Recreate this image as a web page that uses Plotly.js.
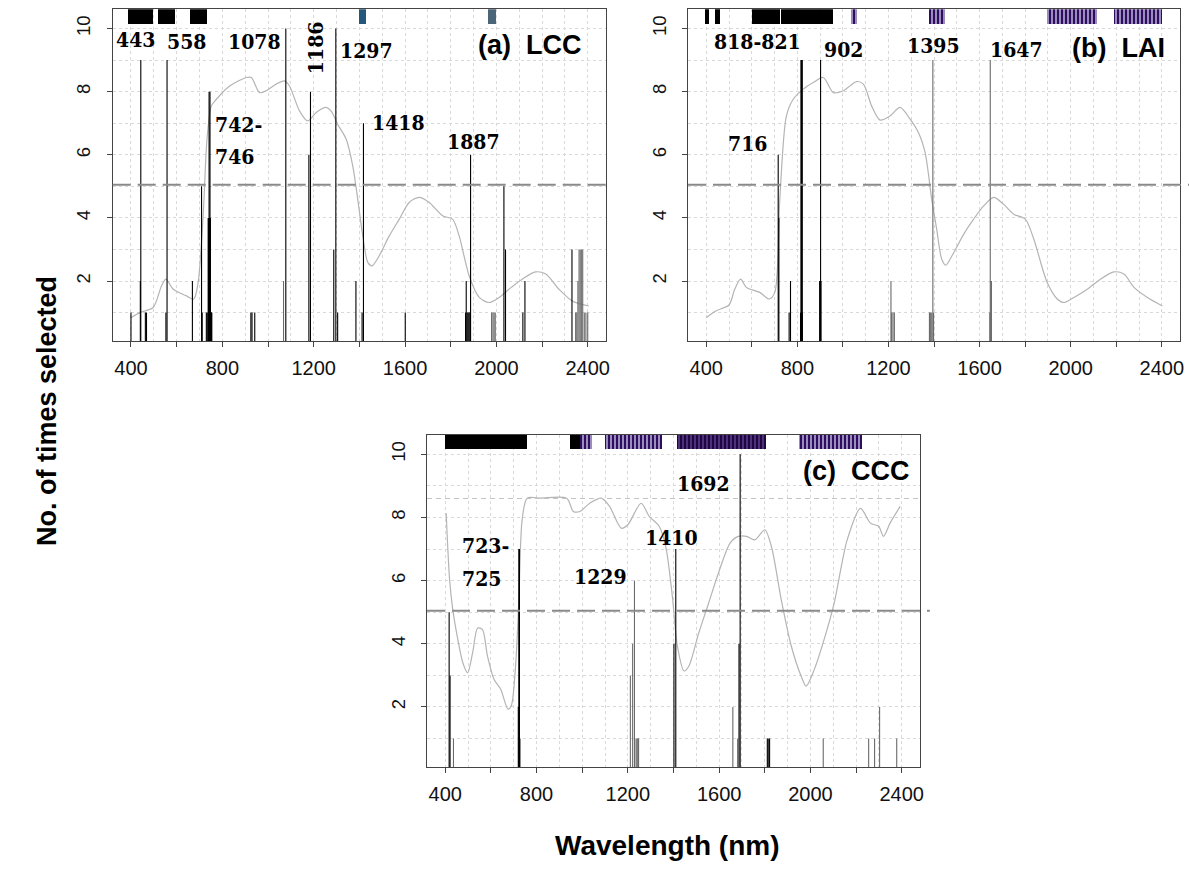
<!DOCTYPE html>
<html><head><meta charset="utf-8">
<script src="https://cdn.plot.ly/plotly-3.0.1.min.js"></script>
<style>html,body{margin:0;padding:0;background:#fff}#chart{width:1189px;height:879px}</style>
</head><body><div id="chart"></div>
<script>
// ================= DATA =================
// x tick values / labels
const xTickVals = [400, 600, 800, 1000, 1200, 1400, 1600, 1800, 2000, 2200, 2400];
const xTickText = ['400', '', '800', '', '1200', '', '1600', '', '2000', '', '2400'];
const yTickVals = [2, 4, 6, 8, 10];
const threshold = 5.05;

// ---- (a) LCC ----
const lccWl    = [400, 441, 443, 463, 468, 553, 558, 669, 709, 712, 730, 734, 738, 740, 742, 744, 746, 748, 750, 752, 754, 925, 930, 942, 1078, 1179, 1186, 1288, 1297, 1305, 1385, 1412, 1418, 1601, 1865, 1868, 1872, 1876, 1880, 1884, 1887, 2033, 2040, 2116, 2125, 2331];
const lccCount = [1,   2,   9,   1,   1,   1,   9,   2,   5,   1,   1,   1,   4,   4,   8,   4,   8,   4,   1,   1,   1,   1,   1,   1,   10,   6,    8,    3,    10,   1,    2,    1,    7,    1,    1,    2,    1,    1,    1,    1,    6,    5,    3,    1,    2,    3];
const lccWlGray    = [1068, 1979, 1985, 1990, 1995, 2347, 2352, 2357, 2362, 2367, 2372, 2378, 2385, 2392, 2400];
const lccCountGray = [2,    1,    1,    1,    1,    1,    1,    2,    3,    3,    3,    3,    1,    1,    1];
const lccSpecWl  = [400,439,497,534,553,585,643,675,694,716,733,752,774,832,905,927,963,992,1036,1072,1094,1138,1174,1211,1254,1276,1305,1342,1371,1393,1415,1437,1455,1487,1531,1575,1618,1662,1706,1764,1808,1837,1881,1925,1968,2012,2055,2113,2172,2216,2274,2332,2404];
const lccSpecVal = [0.84,1.0,1.16,1.85,2.06,1.74,1.53,1.43,1.95,4.07,6.5,7.55,7.76,8.18,8.45,8.45,7.97,8.03,8.24,8.34,8.18,7.39,7.07,7.34,7.5,7.39,6.97,6.5,5.65,4.59,3.43,2.59,2.48,2.8,3.43,3.96,4.49,4.65,4.49,4.07,3.96,3.43,2.16,1.48,1.32,1.48,1.74,2.06,2.29,2.22,1.74,1.37,1.21];
const lccStripStart = [387, 518, 658, 1400, 1963];
const lccStripEnd   = [496, 592, 732, 1430, 1998];
const lccStripKind  = ['solid', 'solid', 'solid', 'blue', 'slate'];
const lccLabels  = ['443', '558', '1078', '1297', '1418', '1887', '742-', '746'];
const lccLabelWl = [422, 645, 941, 1431, 1570, 1899, 759, 759];
const lccLabelY  = [9.66, 9.6, 9.58, 9.31, 7.02, 6.41, 6.97, 5.96];
const lccRotLabel = '1186', lccRotWl = 1206, lccRotY = 9.38;

// ---- (b) LAI ----
const laiWl    = [716, 719, 764, 770, 814, 816, 818, 819, 820, 821, 822, 898, 900, 902, 904];
const laiCount = [6,   4,   1,   2,   1,   9,   9,   9,   9,   9,   1,   2,   2,   9,   2];
const laiWlGray    = [1211, 1214, 1220, 1226, 1380, 1384, 1390, 1395, 1398, 1645, 1647, 1650, 1652];
const laiCountGray = [2,    1,    1,    1,    1,    1,    1,    9,    1,    1,    9,    2,    2];
const laiSpecWl  = [400,444,500,525,551,576,635,676,701,723,752,782,826,870,914,958,1002,1060,1090,1126,1163,1207,1251,1295,1332,1361,1390,1412,1434,1452,1479,1530,1574,1618,1662,1706,1750,1801,1838,1897,1941,1970,2014,2073,2131,2190,2234,2278,2337,2403];
const laiSpecVal = [0.84,1.06,1.24,1.74,2.06,1.8,1.64,1.43,1.64,4.59,7.23,7.76,8.08,8.29,8.45,7.97,8.03,8.32,8.24,7.55,7.1,7.23,7.5,7.13,6.7,6.07,4.59,3.64,2.69,2.5,2.8,3.48,3.96,4.38,4.65,4.43,4.12,3.96,3.33,1.95,1.43,1.32,1.48,1.74,2.06,2.29,2.22,1.8,1.48,1.21];
const laiStripStart = [393, 437, 602, 730, 1034, 1380, 1894, 2190];
const laiStripEnd   = [412, 459, 723, 958, 1060, 1449, 2117, 2403];
const laiStripKind  = ['solid', 'solid', 'solid', 'solid', 'stripe', 'stripe', 'stripe', 'stripe'];
const laiLabels  = ['818-821', '902', '1395', '1647', '716'];
const laiLabelWl = [625, 1001, 1396, 1760, 581];
const laiLabelY  = [9.6, 9.34, 9.47, 9.34, 6.37];

// ---- (c) CCC ----
const cccWl    = [417, 421, 720, 723, 724, 725, 727, 1402, 1410, 1687, 1692, 1811, 1815, 1821];
const cccCount = [5,   3,   2,   7,   7,   7,   1,   4,    7,    4,    10,   1,    1,    1];
const cccWlGray    = [436, 1211, 1221, 1229, 1236, 1240, 1244, 1247, 1660, 1681, 2056, 2255, 2281, 2303, 2378];
const cccCountGray = [1,   3,    4,    6,    1,    1,    1,    1,    2,    1,    1,    1,    1,    2,    1];
const cccSpecWl  = [404,419,433,455,477,498,520,542,563,585,614,643,675,689,708,722,737,759,816,932,961,990,1033,1084,1120,1171,1200,1258,1294,1337,1366,1395,1417,1446,1467,1511,1554,1597,1648,1684,1720,1756,1800,1829,1872,1916,1959,1981,2017,2060,2104,2161,2219,2263,2299,2320,2349,2393];
const cccSpecVal = [8.14,6.03,5.08,4.14,3.4,3.08,3.72,4.5,4.45,3.61,2.87,2.56,1.93,2.03,3.29,5.29,7.93,8.61,8.61,8.61,8.19,8.19,8.45,8.61,8.35,7.66,7.77,8.45,8.03,7.72,7.08,5.5,3.93,3.14,3.29,4.35,5.29,6.24,7.19,7.4,7.4,7.29,7.61,7.08,5.4,3.93,2.98,2.66,3.19,4.14,5.29,7.29,8.29,7.82,7.72,7.4,7.82,8.35];
const cccCeiling = 8.6;
const cccStripStart = [400, 947, 990, 1098, 1417, 1949];
const cccStripEnd   = [759, 990, 1041, 1349, 1804, 2226];
const cccStripKind  = ['solid', 'solid', 'stripe', 'stripe', 'dark', 'stripe'];
const cccLabels  = ['1692', '723-', '725', '1229', '1410'];
const cccLabelWl = [1531, 466, 466, 1079, 1390];
const cccLabelY  = [9.06, 7.1, 6.08, 6.13, 7.36];

const panelTitles = ['(a)  LCC', '(b)  LAI', '(c)  CCC'];
const panelTitleWl = [2148, 2211, 2201];
const panelTitleY  = [9.47, 9.38, 9.47];

// ================= BUILD =================
const STRIP_BASE = 10.16, STRIP_TOP = 10.7;
const Y_RANGE = [0.1, 10.61];
const X_RANGE = [320, 2480];

function needles(wl, cnt, color, ax) {
  const x = [], y = [];
  wl.forEach((w, i) => { x.push(w, w, null); y.push(0, cnt[i], null); });
  return {type: 'scatter', mode: 'lines', x, y, xaxis: 'x' + ax, yaxis: 'y' + ax,
    line: {color, width: 1.1}, hoverinfo: 'skip', showlegend: false};
}
function spectrum(wl, val, ax) {
  return {type: 'scatter', mode: 'lines', x: wl, y: val, xaxis: 'x' + ax, yaxis: 'y' + ax,
    line: {color: '#b4b4b4', width: 1.2, shape: 'spline', smoothing: 0.8}, hoverinfo: 'skip', showlegend: false};
}
const kindStyle = {
  solid:  {color: '#000000'},
  blue:   {color: '#24587a'},
  slate:  {color: '#4a6577'},
  stripe: {color: '#7f6fa8', pattern: {shape: '|', fgcolor: '#2e0c5e', bgcolor: '#a69bc8', size: 4, solidity: 0.55}},
  dark:   {color: '#2a0a55', pattern: {shape: '|', fgcolor: '#1e0640', bgcolor: '#5a3a8a', size: 4, solidity: 0.6}}
};
function strips(st, en, kind, ax) {
  const out = [];
  Object.keys(kindStyle).forEach(k => {
    const idx = kind.map((kk, i) => kk === k ? i : -1).filter(i => i >= 0);
    if (!idx.length) return;
    out.push({type: 'bar', x: idx.map(i => (st[i] + en[i]) / 2), width: idx.map(i => en[i] - st[i]),
      y: idx.map(() => STRIP_TOP - STRIP_BASE), base: STRIP_BASE, xaxis: 'x' + ax, yaxis: 'y' + ax,
      marker: Object.assign({line: {width: 0}}, kindStyle[k]), hoverinfo: 'skip', showlegend: false});
  });
  return out;
}

const traces = [
  ...strips(lccStripStart, lccStripEnd, lccStripKind, ''),
  spectrum(lccSpecWl, lccSpecVal, ''),
  needles(lccWlGray, lccCountGray, '#6a6a6a', ''),
  needles(lccWl, lccCount, '#000000', ''),
  ...strips(laiStripStart, laiStripEnd, laiStripKind, '2'),
  spectrum(laiSpecWl, laiSpecVal, '2'),
  needles(laiWlGray, laiCountGray, '#6a6a6a', '2'),
  needles(laiWl, laiCount, '#000000', '2'),
  ...strips(cccStripStart, cccStripEnd, cccStripKind, '3'),
  spectrum(cccSpecWl, cccSpecVal, '3'),
  needles(cccWlGray, cccCountGray, '#6a6a6a', '3'),
  needles(cccWl, cccCount, '#000000', '3')
];

const W = 1189, H = 879;
function xax(l, r, anchor) {
  return {domain: [l / W, r / W], anchor, range: X_RANGE, tickmode: 'array', tickvals: xTickVals, ticktext: xTickText,
    ticks: 'outside', ticklen: 5, tickcolor: '#444', showline: true, mirror: true, linecolor: '#444', linewidth: 1,
    showgrid: true, gridcolor: '#d9d9d9', griddash: 'dot', gridwidth: 1, zeroline: false,
    minor: {tickmode: 'linear', tick0: 0, dtick: 100, showgrid: true, gridcolor: '#d9d9d9', griddash: 'dot', ticks: ''},
    ticklabelstandoff: 4,
    tickfont: {family: 'Liberation Sans, Arial, sans-serif', size: 20, color: '#111'}, fixedrange: true};
}
function yax(top, bot, anchor) {
  return {domain: [1 - bot / H, 1 - top / H], anchor, range: Y_RANGE, tickmode: 'array', tickvals: yTickVals,
    tickangle: -90, ticks: 'outside', ticklen: 5, tickcolor: '#444', showline: true, mirror: true, linecolor: '#444', linewidth: 1,
    showgrid: true, gridcolor: '#d9d9d9', griddash: 'dot', gridwidth: 1, zeroline: false,
    minor: {tickmode: 'linear', tick0: 0, dtick: 1, showgrid: true, gridcolor: '#d9d9d9', griddash: 'dot', ticks: ''},
    ticklabelstandoff: 9,
    tickfont: {family: 'Liberation Sans, Arial, sans-serif', size: 18.5, color: '#111'}, fixedrange: true};
}

const serif = {family: 'DejaVu Serif Condensed, DejaVu Serif, Liberation Serif, serif', size: 21, color: '#000', weight: 'bold'};
const sansB = {family: 'Liberation Sans, Arial, sans-serif', size: 27, color: '#000', weight: 'bold'};
function labels(txt, wl, yv, ax) {
  return txt.map((t, i) => ({text: '<b>' + t + '</b>', x: wl[i], y: yv[i], xref: 'x' + ax, yref: 'y' + ax,
    showarrow: false, font: serif, xanchor: (t.endsWith('-') || t === '746' || t === '725') ? 'left' : 'center', yanchor: 'middle'}));
}
const annotations = [
  ...labels(lccLabels, lccLabelWl, lccLabelY, ''),
  {text: '<b>' + lccRotLabel + '</b>', x: lccRotWl, y: lccRotY, xref: 'x', yref: 'y', showarrow: false, font: serif, textangle: -90},
  ...labels(laiLabels, laiLabelWl, laiLabelY, '2'),
  ...labels(cccLabels, cccLabelWl, cccLabelY, '3'),
  ...panelTitles.map((t, i) => ({text: '<b>' + t.replace(/ /g, '&nbsp;') + '</b>', x: panelTitleWl[i], y: panelTitleY[i],
    xref: 'x' + (i ? i + 1 : ''), yref: 'y' + (i ? i + 1 : ''), showarrow: false,
    font: {family: 'Liberation Sans, Arial, sans-serif', size: 27, color: '#000', weight: 'bold'}})),
  {text: '<b>No. of times selected</b>', x: 30 / W, y: 1 - 411 / H, xref: 'paper', yref: 'paper', showarrow: false,
    textangle: -90, font: sansB},
  {text: '<b>Wavelength (nm)</b>', x: 667 / W, y: 1 - 863 / H, xref: 'paper', yref: 'paper', showarrow: false,
    font: {family: 'Liberation Sans, Arial, sans-serif', size: 28, color: '#000', weight: 'bold'}}
];

const shapes = [
  {type: 'line', xref: 'x domain', yref: 'y', x0: 0, x1: 1, y0: threshold, y1: threshold, line: {color: '#8a8a8a', width: 2, dash: '18px,7px'}},
  {type: 'line', xref: 'x2 domain', yref: 'y2', x0: 0, x1: 1.02, y0: threshold, y1: threshold, line: {color: '#8a8a8a', width: 2, dash: '18px,7px'}},
  {type: 'line', xref: 'x3 domain', yref: 'y3', x0: 0, x1: 1.02, y0: threshold, y1: threshold, line: {color: '#8a8a8a', width: 2, dash: '18px,7px'}},
  {type: 'line', xref: 'x3 domain', yref: 'y3', x0: 0, x1: 1, y0: cccCeiling, y1: cccCeiling, line: {color: '#c4c4c4', width: 1, dash: '5px,4px'}}
];

const layout = {
  width: W, height: H, margin: {l: 0, r: 0, t: 0, b: 0}, paper_bgcolor: '#fff', plot_bgcolor: '#fff',
  showlegend: false, barmode: 'overlay', bargap: 0,
  xaxis: xax(112.7, 606, 'y'), yaxis: yax(9.3, 341, 'x'),
  xaxis2: xax(688, 1180, 'y2'), yaxis2: yax(9.3, 341, 'x2'),
  xaxis3: xax(427, 920, 'y3'), yaxis3: yax(435, 767, 'x3'),
  annotations, shapes
};
Plotly.newPlot('chart', traces, layout, {displayModeBar: false, staticPlot: true});
</script>
</body></html>
